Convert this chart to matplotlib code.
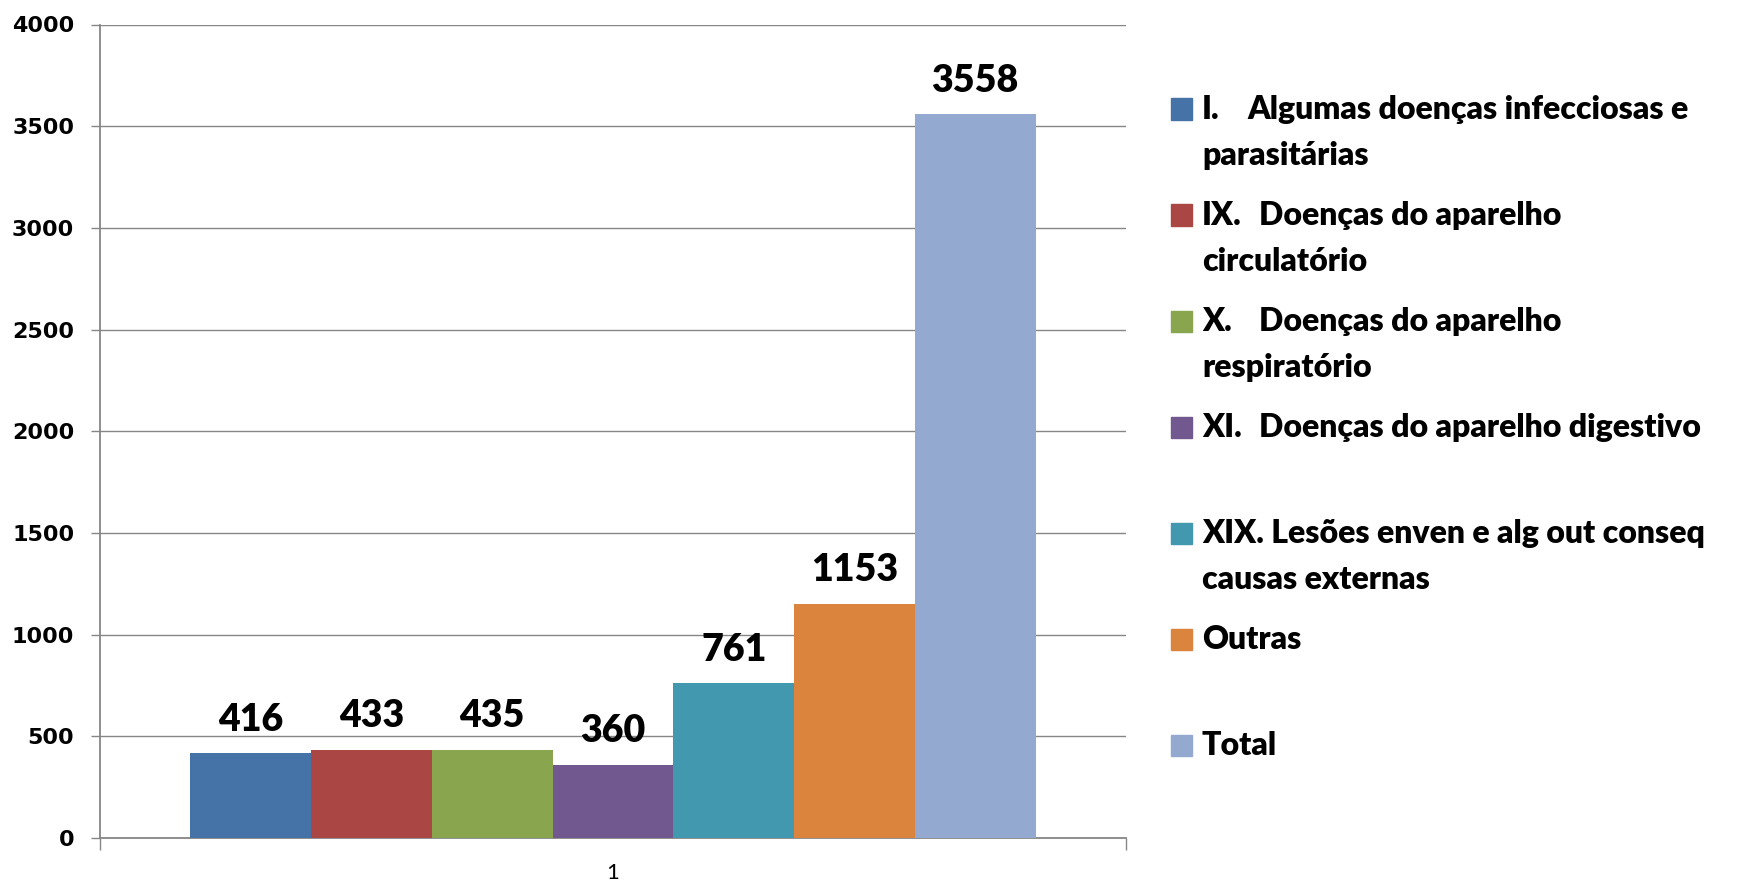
import matplotlib.pyplot as plt
from matplotlib.patches import Rectangle

# data
categories = [
    "I.\tAlgumas doenças infecciosas e\nparasitárias",
    "IX.\tDoenças do aparelho\ncirculatório",
    "X.\tDoenças do aparelho\nrespiratório",
    "XI.\tDoenças do aparelho digestivo",
    "XIX.\tLesões enven e alg out conseq\ncausas externas",
    "Outras",
    "Total",
]
values = [416, 433, 435, 360, 761, 1153, 3558]
colors = ["#4572A7", "#AA4643", "#89A54E", "#71588F", "#4198AF", "#DB843D", "#93A9CF"]
y_ticks = [0, 500, 1000, 1500, 2000, 2500, 3000, 3500, 4000]
x_label = "1"

W, H = 1743, 882
fig = plt.figure(figsize=(W / 100, H / 100), dpi=100)
ax = fig.add_axes([100 / W, 1 - 838 / H, 1026 / W, 813.5 / H])

group = 0.8236
bw = group / len(values)
xs = [-group / 2 + (i + 0.5) * bw for i in range(len(values))]
bars = ax.bar(xs, values, width=bw, color=colors, zorder=3)
ax.bar_label(bars, padding=12, fontsize=27, fontweight="heavy", family="Lato")

ax.set_xlim(-0.5, 0.5)
ax.set_ylim(0, 4000)
ax.set_yticks(y_ticks)
ax.set_yticklabels([str(t) for t in y_ticks], fontsize=16, fontweight="bold",
                   family="DejaVu Sans")
ax.tick_params(axis="y", length=6.5, width=1, color="#868686", pad=12)
ax.yaxis.grid(True, color="#868686", linewidth=1.0, zorder=0)

ax.set_xticks([-0.5, 0.5])
ax.set_xticklabels(["", ""])
ax.tick_params(axis="x", which="major", length=8.5, width=1, color="#868686")
ax.set_xticks([0], minor=True)
ax.set_xticklabels([x_label], minor=True, fontsize=16, family="Lato")
ax.tick_params(axis="x", which="minor", length=0, pad=18)

for s in ["top", "right"]:
    ax.spines[s].set_visible(False)
for s in ["left", "bottom"]:
    ax.spines[s].set_color("#868686")
    ax.spines[s].set_linewidth(1.3)

# legend, drawn by hand to mimic the stacked Excel layout
x_mark, x_text, x_tab = 1171, 1202, 1259
y0, step, line_gap = 109, 106, 46
for i, (lab, c) in enumerate(zip(categories, colors)):
    yc = y0 + i * step
    fig.add_artist(Rectangle((x_mark / W, 1 - (yc + 10.5) / H), 21 / W, 21 / H,
                             color=c, transform=fig.transFigure))
    lines = lab.split("\n")
    first = lines[0]
    base = 1 - (yc + 10) / H
    kw = dict(fontsize=23, fontweight="heavy", family="Lato", va="baseline")
    if "\t" in first:
        pre, rest = first.split("\t")
        if pre == "XIX.":
            fig.text(x_text / W, base, pre + " " + rest, **kw)
        else:
            fig.text(x_text / W, base, pre, **kw)
            fig.text((x_tab - 12 * (pre == "I.")) / W, base, rest, **kw)
    else:
        fig.text(x_text / W, base, first, **kw)
    for j, ln in enumerate(lines[1:], start=1):
        fig.text(x_text / W, 1 - (yc + 10 + j * line_gap) / H, ln, **kw)

fig.savefig("out.png", dpi=100)
